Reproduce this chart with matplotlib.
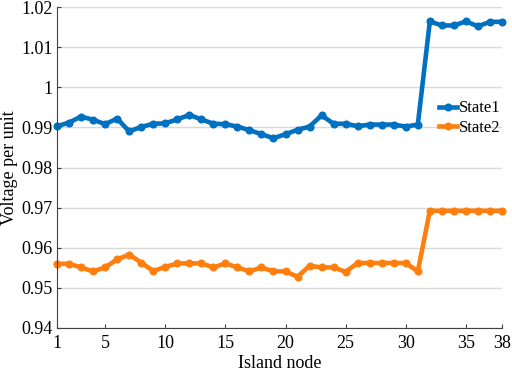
import numpy as np
import matplotlib
matplotlib.use("Agg")
import matplotlib.pyplot as plt

plt.rcParams['font.family'] = ['Liberation Serif', 'DejaVu Serif']

nodes = np.arange(1, 39)

state1 = [0.9903, 0.9912, 0.9927, 0.9919, 0.9908, 0.9922, 0.9890, 0.9901, 0.9909, 0.9910,
          0.9920, 0.9931, 0.9920, 0.9909, 0.9908, 0.9902, 0.9893, 0.9883, 0.9873, 0.9883,
          0.9894, 0.9902, 0.9930, 0.9909, 0.9909, 0.9903, 0.9907, 0.9907, 0.9907, 0.9902,
          0.9907, 1.0164, 1.0154, 1.0154, 1.0164, 1.0152, 1.0163, 1.0163]

state2 = [0.9560, 0.9560, 0.9551, 0.9541, 0.9551, 0.9571, 0.9583, 0.9563, 0.9542, 0.9552,
          0.9561, 0.9561, 0.9561, 0.9551, 0.9561, 0.9551, 0.9541, 0.9551, 0.9541, 0.9541,
          0.9528, 0.9555, 0.9551, 0.9551, 0.9540, 0.9562, 0.9562, 0.9562, 0.9562, 0.9562,
          0.9541, 0.9692, 0.9692, 0.9692, 0.9692, 0.9692, 0.9692, 0.9692]

xticks = [1, 5, 10, 15, 20, 25, 30, 35, 38]
yticks = [0.94, 0.95, 0.96, 0.97, 0.98, 0.99, 1.0, 1.01, 1.02]
ylabels = ['0.94', '0.95', '0.96', '0.97', '0.98', '0.99', '1', '1.01', '1.02']

fig = plt.figure(figsize=(5.12, 3.73), dpi=100)
ax = fig.add_axes([57/512, 1 - 328/373, (502 - 57)/512, (328 - 7)/373])

ax.plot(nodes, state1, color='#0070C0', lw=3.3, marker='o', ms=4.8, label='State1', clip_on=False)
ax.plot(nodes, state2, color='#FF7F0E', lw=3.3, marker='o', ms=4.8, label='State2', clip_on=False)

ax.set_xlim(1, 38)
ax.set_ylim(0.94, 1.02)
ax.set_xticks(xticks)
ax.set_yticks(yticks)
ax.set_yticklabels(ylabels)
ax.tick_params(axis='both', labelsize=13, direction='in', length=3, width=0.8, color='#404040')
ax.tick_params(axis='y', pad=3)
ax.tick_params(axis='x', pad=5)
ax.grid(axis='y', color='#d9d9d9', lw=1)
ax.set_axisbelow(True)
for s in ['top', 'right']:
    ax.spines[s].set_visible(False)
for s in ['left', 'bottom']:
    ax.spines[s].set_color('#404040')

ax.set_xlabel('Island node', fontsize=13)
ax.set_ylabel('Voltage per unit', fontsize=13)
ax.xaxis.set_label_coords(0.5, -0.085)
ax.yaxis.set_label_coords(-0.088, 0.5)

ax.legend(loc='upper left', bbox_to_anchor=(0.84, 0.735), frameon=False, fontsize=12,
          handlelength=1.1, handletextpad=0.1, labelspacing=0.2, borderpad=0)

fig.savefig('out.png', dpi=100)
